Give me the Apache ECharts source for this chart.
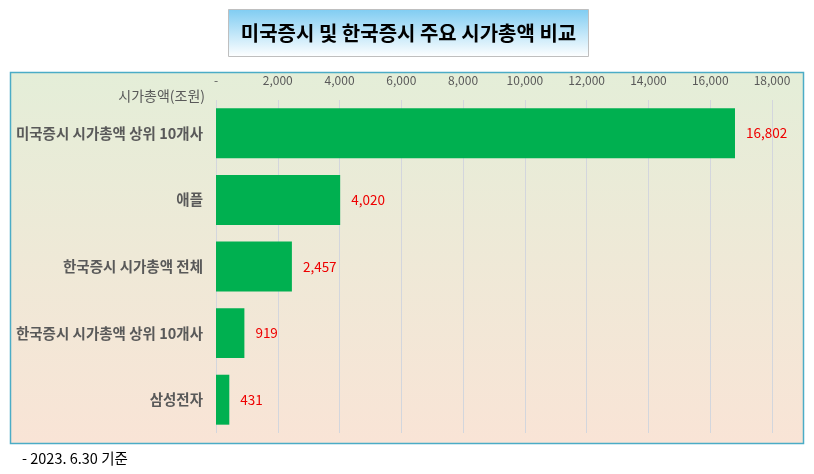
<!DOCTYPE html>
<html><head><meta charset="utf-8">
<script src="https://cdn.jsdelivr.net/npm/echarts@6/dist/echarts.min.js"></script>
<style>html,body{margin:0;padding:0;background:#fff}#c{width:814px;height:474px}</style>
</head><body><div id="c"></div>
<script>
const categories = ['미국증시 시가총액 상위 10개사','애플','한국증시 시가총액 전체','한국증시 시가총액 상위 10개사','삼성전자'];
const values = [16802, 4020, 2457, 919, 431];
const titleText = '미국증시 및 한국증시 주요 시가총액 비교';
const axisName = '시가총액(조원)';
const footnote = '- 2023. 6.30 기준';
const FONT = '"Noto Sans CJK KR", "Noto Sans", sans-serif';

const chart = echarts.init(document.getElementById('c'));
chart.setOption({
  animation: false,
  textStyle: { fontFamily: FONT },
  graphic: [
    { type: 'rect', z: -10, shape: { x: 10.5, y: 72.5, width: 793, height: 371 },
      style: { fill: new echarts.graphic.LinearGradient(0,0,0,1,[{offset:0,color:'#E4EED8'},{offset:1,color:'#F9E4D6'}]),
               stroke: '#4BACC6', lineWidth: 1.5 } },
    { type: 'rect', z: 10, shape: { x: 228.5, y: 9.5, width: 360, height: 47 },
      style: { fill: new echarts.graphic.LinearGradient(0,0,0,1,[{offset:0,color:'#7FCCF2'},{offset:1,color:'#FFFFFF'}]),
               stroke: '#BFBFBF', lineWidth: 1 } },
    { type: 'text', z: 11, x: 408.5, y: 33, style: { text: titleText, fill: '#000', font: 'bold 20px ' + FONT,
      align: 'center', verticalAlign: 'middle' } },
    { type: 'text', z: 11, x: 22, y: 458, style: { text: footnote, fill: '#000', font: '14.5px ' + FONT,
      align: 'left', verticalAlign: 'middle' } },
    { type: 'text', z: 11, x: 205, y: 96, style: { text: axisName, fill: '#595959', font: '14px ' + FONT,
      align: 'right', verticalAlign: 'middle' } }
  ],
  grid: { left: 216, right: 42, top: 100, bottom: 41, containLabel: false },
  xAxis: {
    type: 'value', position: 'top', min: 0, max: 18000, interval: 2000,
    axisLine: { show: false }, axisTick: { show: false },
    splitLine: { show: true, lineStyle: { color: '#D3D6DD', width: 1 } },
    axisLabel: { color: '#595959', fontSize: 12, margin: 14,
      formatter: v => v === 0 ? '-' : v.toLocaleString('en-US') }
  },
  yAxis: {
    type: 'category', inverse: true, data: categories,
    axisLine: { show: false }, axisTick: { show: false },
    axisLabel: { color: '#595959', fontSize: 14.5, fontWeight: 'bold', margin: 13 }
  },
  series: [{
    type: 'bar', data: values, barWidth: '75%',
    itemStyle: { color: '#00B050' },
    label: { show: true, position: 'right', distance: 11, color: '#EE0000', fontSize: 13.5,
      formatter: p => p.value.toLocaleString('en-US') }
  }]
});
</script></body></html>
